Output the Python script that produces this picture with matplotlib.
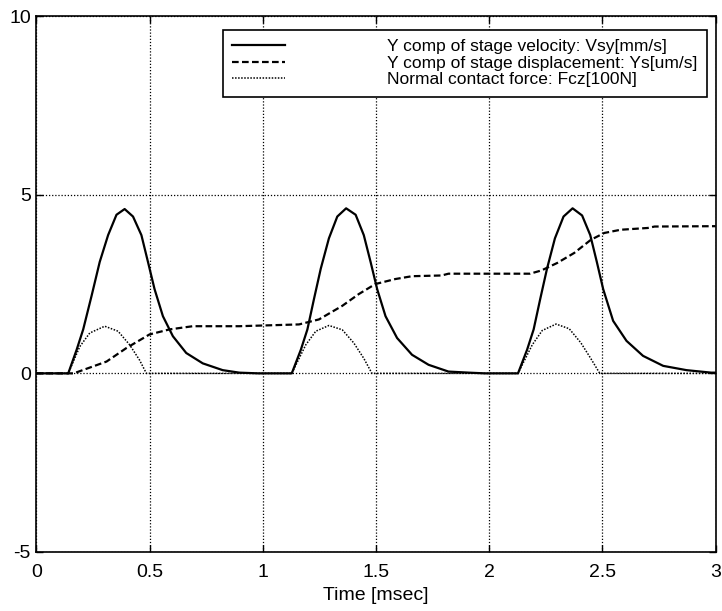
import matplotlib
matplotlib.use('Agg')
import numpy as np
from matplotlib import pyplot as plt

plt.rcParams['font.family'] = ['Liberation Sans', 'DejaVu Sans']
plt.rcParams['axes.unicode_minus'] = False

# stage velocity Vsy [mm/s]
t_vel = [0.0, 0.141, 0.178, 0.207, 0.244, 0.280, 0.317, 0.354, 0.390, 0.427,
         0.464, 0.493, 0.522, 0.559, 0.603, 0.662, 0.735, 0.823, 0.896, 0.98,
         1.128, 1.168, 1.197, 1.226, 1.256, 1.292, 1.329, 1.368, 1.410, 1.446,
         1.476, 1.505, 1.542, 1.593, 1.659, 1.732, 1.820, 1.91, 1.98,
         2.127, 2.167, 2.196, 2.225, 2.255, 2.29, 2.328, 2.368, 2.41, 2.446,
         2.475, 2.503, 2.547, 2.606, 2.679, 2.768, 2.871, 2.98, 3.0]
vel = [0.0, 0.0, 0.66, 1.23, 2.17, 3.12, 3.87, 4.44, 4.60, 4.39,
       3.87, 3.12, 2.36, 1.60, 1.04, 0.57, 0.28, 0.09, 0.02, 0.0,
       0.0, 0.66, 1.23, 2.08, 2.93, 3.78, 4.39, 4.62, 4.44, 3.87,
       3.12, 2.36, 1.60, 0.99, 0.52, 0.24, 0.05, 0.02, 0.0,
       0.0, 0.66, 1.23, 2.08, 2.93, 3.78, 4.39, 4.62, 4.42, 3.87,
       3.12, 2.36, 1.47, 0.91, 0.49, 0.21, 0.09, 0.02, 0.02]

# stage displacement Ys
t_disp = [0.0, 0.165, 0.31, 0.398, 0.50, 0.588, 0.691, 0.896, 1.16, 1.248,
          1.351, 1.424, 1.497, 1.585, 1.659, 1.79, 1.82, 2.18, 2.23, 2.30,
          2.375, 2.449, 2.508, 2.58, 2.70, 2.73, 3.0]
disp = [0.0, 0.0, 0.33, 0.71, 1.09, 1.23, 1.32, 1.32, 1.37, 1.51,
        1.89, 2.22, 2.50, 2.64, 2.72, 2.74, 2.79, 2.79, 2.88, 3.09,
        3.37, 3.74, 3.93, 4.02, 4.07, 4.11, 4.12]

# normal contact force Fcz [100N]
t_force = [0.0, 0.141, 0.192, 0.236, 0.302, 0.361, 0.412, 0.456, 0.486,
           1.128, 1.19, 1.234, 1.292, 1.351, 1.402, 1.446, 1.482,
           2.127, 2.19, 2.234, 2.295, 2.353, 2.404, 2.448, 2.488, 3.0]
force = [0.0, 0.0, 0.75, 1.13, 1.32, 1.18, 0.80, 0.37, 0.0,
         0.0, 0.80, 1.18, 1.34, 1.22, 0.85, 0.42, 0.0,
         0.0, 0.80, 1.20, 1.38, 1.25, 0.86, 0.42, 0.0, 0.0]

labels = ['Y comp of stage velocity: Vsy[mm/s]',
          'Y comp of stage displacement: Ys[um/s]',
          'Normal contact force: Fcz[100N]']

fig = plt.figure(figsize=(7.22, 6.11), dpi=100)
ax = fig.add_axes([0.0503, 0.0966, 0.941, 0.877])

ax.plot(t_vel, vel, color='black', lw=1.6, label=labels[0])
ax.plot(t_disp, disp, color='black', lw=1.6, dashes=(3, 1.5), label=labels[1])
ax.plot(t_force, force, color='black', lw=1.1, dashes=(1, 1), label=labels[2])

ax.set_xlim(0, 3)
ax.set_ylim(-5, 10)
ax.set_xticks(np.arange(0, 3.01, 0.5))
ax.set_xticklabels(['0', '0.5', '1', '1.5', '2', '2.5', '3'])
ax.set_yticks([-5, 0, 5, 10])
ax.grid(True, color='black', linestyle=(0, (1, 1.5)), linewidth=0.9)
ax.tick_params(direction='in', length=5, width=1, labelsize=14,
               top=True, right=True)
ax.tick_params(axis='x', pad=9)
ax.tick_params(axis='y', pad=4)
for s in ax.spines.values():
    s.set_linewidth(1.2)
ax.set_xlabel('Time [msec]', fontsize=14, labelpad=4)

leg = ax.legend(loc='upper right', bbox_to_anchor=(0.987, 0.975),
                borderaxespad=0, fancybox=False, framealpha=1,
                edgecolor='black', fontsize=12.5, handlelength=3.0,
                handletextpad=5.9, labelspacing=0.07, borderpad=0.55)
leg.get_frame().set_linewidth(1.2)

fig.savefig('out.png', dpi=100)
